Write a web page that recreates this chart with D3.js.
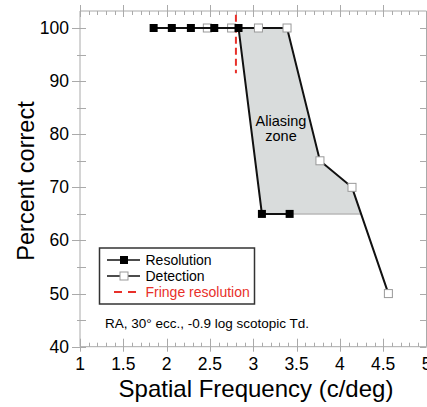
<!DOCTYPE html>
<html>
<head>
<meta charset="utf-8">
<script src="https://cdn.jsdelivr.net/npm/d3@7"></script>
<style>
  body { margin: 0; background: #fff; }
  svg { font-family: "Liberation Sans", Arial, Helvetica, sans-serif; }
</style>
</head>
<body>
<svg id="chart" width="427" height="407"></svg>
<script>
// data
var resX = [1.85, 2.06, 2.28, 2.55, 2.83, 3.10, 3.42];
var resY = [100, 100, 100, 100, 100, 65, 65];
var detX = [2.47, 2.75, 3.06, 3.39, 3.77, 4.14, 4.56];
var detY = [100, 100, 100, 100, 75, 70, 50];
var zoneX = [2.83, 3.39, 3.77, 4.14, 4.245, 3.10];
var zoneY = [100, 100, 75, 70, 65, 65];
var fringeX = [2.80, 2.80];
var fringeY = [102.5, 91.5];
var xTicks = [1, 1.5, 2, 2.5, 3, 3.5, 4, 4.5, 5];
var yTicks = [40, 50, 60, 70, 80, 90, 100];

var svg = d3.select("#chart");
var axisCol = "#aaa";

var x = d3.scaleLinear().domain([1, 5]).range([80, 426.5]);
var y = d3.scaleLinear().domain([40, 100]).range([346.7, 28]);
var yTop = 11;

function pts(xs, ys) {
  return xs.map(function(v, i) { return [x(v), y(ys[i])]; });
}

// aliasing zone
svg.append("path")
  .attr("d", "M" + pts(zoneX, zoneY).join("L") + "Z")
  .attr("fill", "#d9dcdc")
  .attr("stroke", "none");
svg.append("line")
  .attr("x1", x(3.42)).attr("x2", x(4.245))
  .attr("y1", y(65)).attr("y2", y(65))
  .attr("stroke", "#b8b8b8").attr("stroke-width", 1.5);

// frame axes
var g = svg.append("g").attr("stroke", axisCol).attr("stroke-width", 1).attr("fill", "none");
g.append("line").attr("x1", 80).attr("x2", 80).attr("y1", yTop).attr("y2", y(40));
g.append("line").attr("x1", 80).attr("x2", 426.5).attr("y1", y(40)).attr("y2", y(40));
g.append("line").attr("x1", 80).attr("x2", 426.5).attr("y1", yTop).attr("y2", yTop);
g.append("line").attr("x1", 426.5).attr("x2", 426.5).attr("y1", yTop).attr("y2", y(40));

var minor = d3.range(1, 5.001, 0.1);
minor.forEach(function(v) {
  var major = Math.abs(v * 2 - Math.round(v * 2)) < 1e-6;
  var xx = Math.round(x(v)) + 0.5;
  if (major) {
    g.append("line").attr("x1", xx).attr("x2", xx).attr("y1", y(40) - 8).attr("y2", y(40) + 5);
    g.append("line").attr("x1", xx).attr("x2", xx).attr("y1", yTop - 6).attr("y2", yTop + 6);
  } else {
    g.append("line").attr("x1", xx).attr("x2", xx).attr("y1", y(40) - 4).attr("y2", y(40));
    g.append("line").attr("x1", xx).attr("x2", xx).attr("y1", yTop).attr("y2", yTop + 4);
  }
});
d3.range(40, 101, 5).forEach(function(v) {
  var yy = Math.round(y(v)) + 0.5;
  var major = v % 10 === 0;
  g.append("line").attr("x1", major ? 72 : 77).attr("x2", 86).attr("y1", yy).attr("y2", yy);
  g.append("line").attr("x1", 420).attr("x2", 426.5).attr("y1", yy).attr("y2", yy);
});

// tick labels
svg.append("g").selectAll("text").data(xTicks).join("text")
  .attr("x", function(d) { return x(d); })
  .attr("y", 370)
  .attr("text-anchor", "middle")
  .attr("font-size", 17.5)
  .text(function(d) { return d; });
svg.append("g").selectAll("text").data(yTicks).join("text")
  .attr("x", 69)
  .attr("y", function(d) { return y(d) + 6; })
  .attr("text-anchor", "end")
  .attr("font-size", 17.5)
  .text(function(d) { return d; });

// axis titles
svg.append("text")
  .attr("x", 256).attr("y", 397)
  .attr("text-anchor", "middle")
  .attr("font-size", 24)
  .text("Spatial Frequency (c/deg)");
svg.append("text")
  .attr("transform", "translate(34,181) rotate(-90)")
  .attr("text-anchor", "middle")
  .attr("font-size", 23.5)
  .text("Percent correct");

// fringe resolution
svg.append("line")
  .attr("x1", x(fringeX[0])).attr("x2", x(fringeX[1]))
  .attr("y1", y(fringeY[0])).attr("y2", y(fringeY[1]))
  .attr("stroke", "#e8302a").attr("stroke-width", 2)
  .attr("stroke-dasharray", "7,4");

var line = d3.line();
var ms = 8;

// detection
svg.append("path")
  .attr("d", line(pts(detX, detY)))
  .attr("fill", "none").attr("stroke", "#111").attr("stroke-width", 2);
svg.append("g").selectAll("rect").data(pts(detX, detY)).join("rect")
  .attr("x", function(d) { return d[0] - ms / 2; })
  .attr("y", function(d) { return d[1] - ms / 2; })
  .attr("width", ms).attr("height", ms)
  .attr("fill", "#fff").attr("stroke", "#999").attr("stroke-width", 1);

// resolution
svg.append("path")
  .attr("d", line(pts(resX, resY)))
  .attr("fill", "none").attr("stroke", "#111").attr("stroke-width", 2);
svg.append("g").selectAll("rect").data(pts(resX, resY)).join("rect")
  .attr("x", function(d) { return d[0] - ms / 2; })
  .attr("y", function(d) { return d[1] - ms / 2; })
  .attr("width", ms).attr("height", ms)
  .attr("fill", "#000");

// zone label
svg.append("text").attr("x", 281).attr("y", 126).attr("text-anchor", "middle")
  .attr("font-size", 14.5).text("Aliasing");
svg.append("text").attr("x", 281).attr("y", 141).attr("text-anchor", "middle")
  .attr("font-size", 14.5).text("zone");

// legend
var lg = svg.append("g");
lg.append("rect").attr("x", 99.5).attr("y", 248).attr("width", 155).attr("height", 56)
  .attr("fill", "#fff").attr("stroke", "#333").attr("stroke-width", 1.5);
var legItems = ["Resolution", "Detection", "Fringe resolution"];
legItems.forEach(function(name, i) {
  var ly = 260 + i * 16;
  if (i < 2) {
    lg.append("line").attr("x1", 107).attr("x2", 140).attr("y1", ly).attr("y2", ly)
      .attr("stroke", "#111").attr("stroke-width", 1.5);
    lg.append("rect").attr("x", 124 - ms / 2).attr("y", ly - ms / 2).attr("width", ms).attr("height", ms)
      .attr("fill", i === 0 ? "#000" : "#fff").attr("stroke", i === 0 ? "none" : "#999");
  } else {
    lg.append("line").attr("x1", 114).attr("x2", 140).attr("y1", ly).attr("y2", ly)
      .attr("stroke", "#e8302a").attr("stroke-width", 2).attr("stroke-dasharray", "8,6");
  }
  lg.append("text").attr("x", 145.5).attr("y", ly + 5).attr("font-size", 14)
    .attr("fill", i === 2 ? "#e8302a" : "#000").text(name);
});

svg.append("text").attr("x", 105).attr("y", 328).attr("font-size", 13.5)
  .text("RA, 30\u00b0 ecc., -0.9 log scotopic Td.");
</script>
</body>
</html>
